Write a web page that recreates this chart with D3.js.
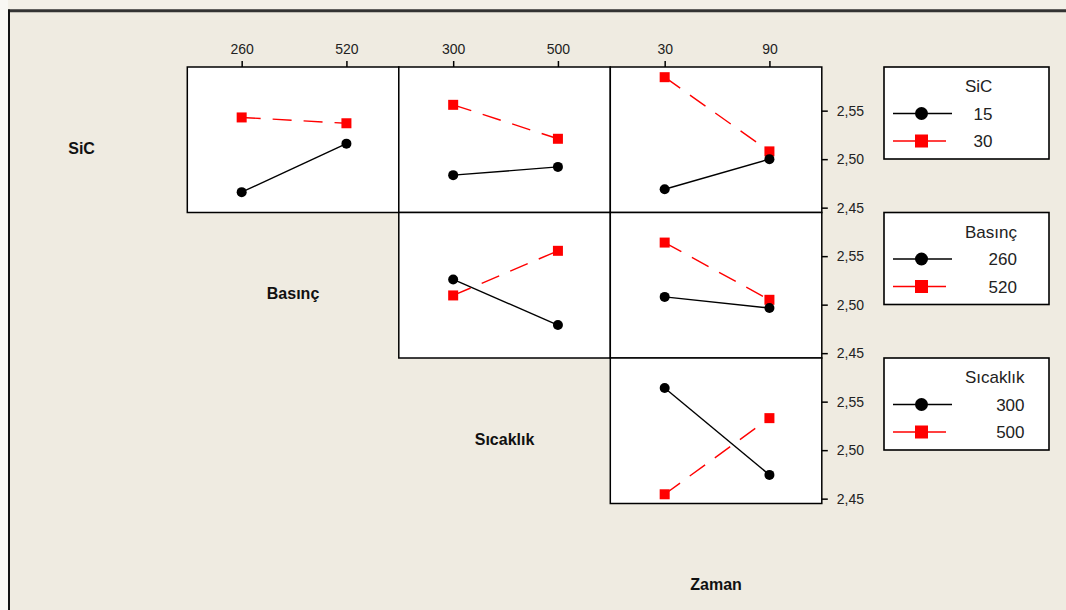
<!DOCTYPE html>
<html>
<head>
<meta charset="utf-8">
<script src="https://cdn.jsdelivr.net/npm/d3@7"></script>
<style>
  html, body { margin: 0; padding: 0; background: #EFEBE1; }
  svg { display: block; }
</style>
</head>
<body>
<svg id="chart" width="1066" height="610"></svg>
<script>
// Factors and their two levels
const factors = ["SiC", "Basınç", "Sıcaklık", "Zaman"];
const sicLevels = [15, 30];
const basincLevels = [260, 520];
const sicaklikLevels = [300, 500];
const zamanLevels = [30, 90];

// Interaction means: rows = levels of the trace factor, columns = levels of the x factor
const sicByBasinc = [[2.466, 2.516], [2.543, 2.537]];
const sicBySicaklik = [[2.4835, 2.492], [2.556, 2.521]];
const sicByZaman = [[2.469, 2.500], [2.5845, 2.508]];
const basincBySicaklik = [[2.526, 2.479], [2.5095, 2.5555]];
const basincByZaman = [[2.508, 2.4965], [2.564, 2.505]];
const sicaklikByZaman = [[2.564, 2.4745], [2.4545, 2.533]];

// Y axis ticks
const yTicks = [2.45, 2.50, 2.55];
const yTickLabels = ["2,45", "2,50", "2,55"];

const levels = [sicLevels, basincLevels, sicaklikLevels, zamanLevels];
// panel list: [trace factor, x factor, means]
const panels = [
  [0, 1, sicByBasinc], [0, 2, sicBySicaklik], [0, 3, sicByZaman],
  [1, 2, basincBySicaklik], [1, 3, basincByZaman],
  [2, 3, sicaklikByZaman]
];

const svg = d3.select("#chart");
const W = 1066, H = 610;
const bg = "#EFEBE1";
const red = "#FF0000";

// background and window frame
svg.append("rect").attr("width", W).attr("height", H).attr("fill", bg);
svg.append("rect").attr("x", 0).attr("y", 0).attr("width", W).attr("height", 10).attr("fill", "#F3F0E8");
svg.append("rect").attr("x", 0).attr("y", 0).attr("width", 8).attr("height", H).attr("fill", "#F8F7F3");
svg.append("line").attr("x1", 8).attr("x2", W).attr("y1", 10.8).attr("y2", 10.8)
  .attr("stroke", "#333").attr("stroke-width", 3);
svg.append("line").attr("x1", 9).attr("x2", 9).attr("y1", 9.5).attr("y2", H)
  .attr("stroke", "#111").attr("stroke-width", 2);

// grid geometry
const gx = 187.3, gy = 67, colW = 211.5, rowH = 145.5;
const y = d3.scaleLinear().domain([2.445, 2.595]);
const colX = c => gx + (c - 1) * colW;   // x factor index -> left edge
const rowY = r => gy + r * rowH;         // trace factor index -> top edge

function xScale(f) {
  const x0 = colX(f);
  return d3.scalePoint().domain(levels[f]).range([x0 + 2, x0 + colW]).padding(0.5);
}

const font = "'Liberation Sans', Arial, sans-serif";

// panels
panels.forEach(([r, c, means]) => {
  const x0 = colX(c), y0 = rowY(r);
  const xs = xScale(c);
  const ys = y.copy().range([y0 + rowH, y0]);
  const g = svg.append("g");
  g.append("rect").attr("x", x0).attr("y", y0).attr("width", colW).attr("height", rowH)
    .attr("fill", "#fff").attr("stroke", "#000").attr("stroke-width", 1.5);

  const line = d3.line().x(d => xs(d.x)).y(d => ys(d.v));
  const series = means.map((row, i) => row.map((v, j) => ({ x: levels[c][j], v })));

  // second level (red, dashed, squares)
  g.append("path").datum(series[1]).attr("d", line).attr("fill", "none")
    .attr("stroke", red).attr("stroke-width", 1.4).attr("stroke-dasharray", "19,12");
  g.selectAll(".sq").data(series[1]).join("rect")
    .attr("x", d => xs(d.x) - 5).attr("y", d => ys(d.v) - 5)
    .attr("width", 10).attr("height", 10).attr("fill", red);

  // first level (black, solid, circles)
  g.append("path").datum(series[0]).attr("d", line).attr("fill", "none")
    .attr("stroke", "#000").attr("stroke-width", 1.4);
  g.selectAll(".ci").data(series[0]).join("circle")
    .attr("cx", d => xs(d.x)).attr("cy", d => ys(d.v)).attr("r", 5).attr("fill", "#000");
});

// top axes (x levels)
[1, 2, 3].forEach(c => {
  const xs = xScale(c);
  const ax = d3.axisTop(xs).tickSize(6).tickSizeOuter(0).tickPadding(7);
  const g = svg.append("g").attr("transform", `translate(0,${gy})`).call(ax);
  g.select(".domain").remove();
  g.selectAll("line").attr("stroke", "#000").attr("stroke-width", 1.5);
  g.selectAll("text").attr("font-family", font).attr("font-size", 14).attr("fill", "#222");
});

// right axes (response)
[0, 1, 2].forEach(r => {
  const y0 = rowY(r);
  const ys = y.copy().range([y0 + rowH, y0]);
  const ax = d3.axisRight(ys).tickValues(yTicks)
    .tickFormat((d, i) => yTickLabels[i]).tickSize(6).tickPadding(9);
  const g = svg.append("g").attr("transform", `translate(${colX(4)},0)`).call(ax);
  g.select(".domain").remove();
  g.selectAll("line").attr("stroke", "#000").attr("stroke-width", 1.5);
  g.selectAll("text").attr("font-family", font).attr("font-size", 14).attr("fill", "#222");
});

// factor names on the diagonal
factors.forEach((name, k) => {
  svg.append("text")
    .attr("x", colX(k) + colW / 2)
    .attr("y", rowY(k) + rowH / 2 + 14)
    .attr("text-anchor", "middle")
    .attr("font-family", font).attr("font-size", 16).attr("font-weight", "bold")
    .attr("fill", "#111")
    .text(name);
});

// legends
const lx = 884, lw = 165, lh = 92;
[0, 1, 2].forEach(r => {
  const y0 = rowY(r);
  const g = svg.append("g");
  g.append("rect").attr("x", lx).attr("y", y0).attr("width", lw).attr("height", lh)
    .attr("fill", "#fff").attr("stroke", "#000").attr("stroke-width", 1.6);
  const title = g.append("text").attr("x", 965).attr("y", y0 + 25)
    .attr("font-family", font).attr("font-size", 17).attr("fill", "#222")
    .text(factors[r]);
  const tw = title.node().getComputedTextLength();
  const items = [
    { lvl: levels[r][0], color: "#000", sym: "circle", x2: 952 },
    { lvl: levels[r][1], color: red, sym: "square", x2: 946 }
  ];
  items.forEach((it, i) => {
    const cy = y0 + 46.5 + i * 27.5;
    g.append("line").attr("x1", 893).attr("x2", it.x2).attr("y1", cy).attr("y2", cy)
      .attr("stroke", it.color).attr("stroke-width", 1.4);
    if (it.sym === "circle") {
      g.append("circle").attr("cx", 921.5).attr("cy", cy).attr("r", 6.5).attr("fill", it.color);
    } else {
      g.append("rect").attr("x", 915).attr("y", cy - 6.5).attr("width", 13).attr("height", 13)
        .attr("fill", it.color);
    }
    g.append("text").attr("x", 965 + tw).attr("y", cy + 6)
      .attr("text-anchor", "end")
      .attr("font-family", font).attr("font-size", 17).attr("fill", "#222")
      .text(it.lvl);
  });
});
</script>
</body>
</html>
